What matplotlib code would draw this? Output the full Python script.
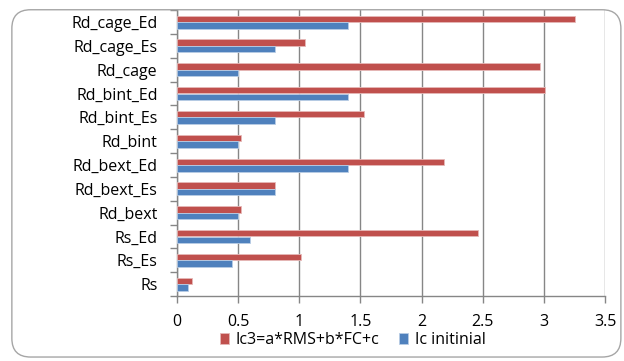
import matplotlib.pyplot as plt
import numpy as np
from matplotlib.patches import FancyBboxPatch

categories = ["Rs", "Rs_Es", "Rs_Ed", "Rd_bext", "Rd_bext_Es", "Rd_bext_Ed",
              "Rd_bint", "Rd_bint_Es", "Rd_bint_Ed", "Rd_cage", "Rd_cage_Es", "Rd_cage_Ed"]
ic3 = [0.12, 1.01, 2.46, 0.52, 0.80, 2.18, 0.52, 1.53, 3.01, 2.97, 1.05, 3.25]
ic_initial = [0.09, 0.45, 0.60, 0.50, 0.80, 1.40, 0.50, 0.80, 1.40, 0.50, 0.80, 1.40]
xticks = [0, 0.5, 1, 1.5, 2, 2.5, 3, 3.5]
xtick_labels = ["0", "0.5", "1", "1.5", "2", "2.5", "3", "3.5"]

plt.rcParams["font.family"] = ["Open Sans", "DejaVu Sans"]

fig = plt.figure(figsize=(6.24, 3.61), dpi=100)
ax = fig.add_axes([0.2837, 0.180, 0.686, 0.792])

# chart area border (rounded)
border = FancyBboxPatch((0.019, 0.011), 0.976, 0.962, transform=fig.transFigure,
                        boxstyle="round,pad=0,rounding_size=0.03",
                        mutation_aspect=624 / 361,
                        fill=False, edgecolor="#a6a6a6", linewidth=1.0, zorder=0)
fig.patches.append(border)

y = np.arange(len(categories))
h = 0.27
ax.barh(y + 0.135, ic3, height=h, color="#C0504D", edgecolor="#e6b8b7",
        linewidth=0.6, label="Ic3=a*RMS+b*FC+c", zorder=3)
ax.barh(y - 0.14, ic_initial, height=h, color="#4F81BD", edgecolor="#b9cde5",
        linewidth=0.6, label="Ic initinial", zorder=3)

ax.set_xlim(0, 3.5)
ax.set_ylim(-0.5, len(categories) - 0.5)
ax.set_xticks(xticks)
ax.set_xticklabels(xtick_labels, fontsize=11.5)
ax.set_yticks(y)
ax.set_yticklabels(categories, fontsize=11.5)
ax.set_yticks(np.arange(-0.5, len(categories)), minor=True)
ax.tick_params(axis="y", which="major", length=0, pad=14)
ax.tick_params(axis="y", which="minor", length=5, color="#868686", width=1)
ax.tick_params(axis="x", length=5, color="#868686", width=1, pad=8)

ax.grid(axis="x", color="#868686", linewidth=1.0, zorder=0)
for s in ["top", "right"]:
    ax.spines[s].set_visible(False)
for s in ["left", "bottom"]:
    ax.spines[s].set_color("#868686")
    ax.spines[s].set_linewidth(1.0)

handles, labels = ax.get_legend_handles_labels()
fig.legend(handles, labels, loc="center", bbox_to_anchor=(0.565, 0.058), ncol=2,
           frameon=False, fontsize=11.5, handlelength=0.6, handleheight=0.6,
           handletextpad=0.4, columnspacing=1.2)

fig.savefig("out.png", dpi=100)
